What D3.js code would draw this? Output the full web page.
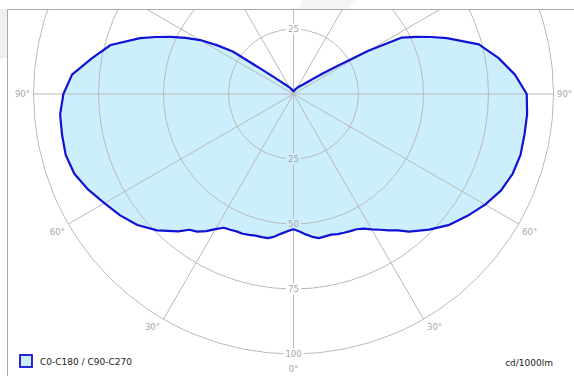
<!DOCTYPE html>
<html>
<head>
<meta charset="utf-8">
<script src="https://cdn.jsdelivr.net/npm/d3@7"></script>
<style>
  html, body { margin: 0; padding: 0; background: #fff; }
  svg { display: block; }
</style>
</head>
<body>
<svg id="chart" width="574" height="376"></svg>
<script>
// Luminous intensity distribution, cd/1000lm, by gamma angle (0° = straight down)
const gammaDeg = [0, 2.5, 5, 7.5, 10, 12.5, 15, 17.5, 20, 22.5, 25, 27.5, 30, 32.5, 35, 37.5, 40,
  45, 50, 55, 60, 65, 70, 75, 80, 85, 90, 95, 100, 105, 110,
  112.5, 115, 117.5, 120, 122.5, 125, 127.5, 130,
  135, 140, 145, 150, 155, 160, 165, 170, 175, 180];

// C0 half-plane (drawn on the right)
const c0Values = [52.0, 52.9, 54.2, 55.4, 56.3, 56.1, 56.0, 56.5, 56.8, 57.1, 57.4, 58.4, 60.1, 61.9, 64.0, 66.1, 69.1,
  73.8, 78.3, 81.7, 85.1, 88.0, 89.7, 90.4, 90.2, 90.2, 89.7, 85.5, 80.0, 73.8, 62.8,
  57.3, 51.9, 47.0, 33.0, 20.0, 13.7, 10.0, 7.5,
  5.0, 4.0, 3.3, 2.7, 2.2, 1.8, 1.5, 1.3, 1.2, 1.1];

// C180 half-plane (drawn on the left)
const c180Values = [52.0, 52.8, 53.9, 55.3, 56.3, 56.4, 56.4, 56.8, 57.2, 57.2, 57.6, 58.0, 60.0, 62.5, 64.6, 65.8, 69.0,
  74.2, 78.4, 81.4, 84.0, 87.1, 89.7, 90.7, 90.4, 90.1, 88.5, 85.5, 78.8, 72.8, 62.8,
  57.3, 52.0, 46.8, 41.5, 35.0, 28.5, 16.0, 11.0,
  6.3, 4.5, 3.5, 2.8, 2.2, 1.8, 1.5, 1.3, 1.2, 1.1];

const radialTicks = [25, 50, 75, 100];
const spokeAngles = [0, 30, 60, 90, 120, 150, 180];
const angleLabels = [0, 30, 60, 90];
const legendLabel = "C0-C180 / C90-C270";
const unitLabel = "cd/1000lm";

const W = 574, H = 376;
const cx = 293.5, cy = 94;
const rMax = 260;
const font = "'DejaVu Sans', Verdana, sans-serif";
const gridColor = "#b9b9b9";
const labelColor = "#a6a6a6";
const lineColor = "#1212d4";
const fillColor = "#cdeefd";

const svg = d3.select("#chart");
const defs = svg.append("defs");

const r = d3.scaleLinear().domain([0, 100]).range([0, rMax]);
const rad = d => d * Math.PI / 180;

// frame clip
defs.append("clipPath").attr("id", "frameClip")
  .append("rect").attr("x", 8).attr("y", 10).attr("width", W - 8).attr("height", H - 10);

// mask that opens gaps in the grid behind the value labels (in the centred group's coordinates)
const mask = defs.append("mask").attr("id", "labelGaps")
  .attr("maskUnits", "userSpaceOnUse")
  .attr("x", -cx).attr("y", -cy).attr("width", W).attr("height", H);
mask.append("rect").attr("x", -cx).attr("y", -cy).attr("width", W).attr("height", H).attr("fill", "#fff");

// soft grey bands outside the frame
svg.append("rect").attr("x", 0).attr("y", 9).attr("width", 7).attr("height", 49).attr("fill", "#efeff1");
svg.append("polygon").attr("points", "303,0 357,0 347,9 298,9").attr("fill", "#f4f4f6");

const plot = svg.append("g").attr("clip-path", "url(#frameClip)");
const center = plot.append("g").attr("transform", `translate(${cx},${cy})`);

// filled distribution
const pts = [];
gammaDeg.forEach((g, i) => pts.push([Math.PI - rad(g), r(c0Values[i])]));
for (let i = gammaDeg.length - 1; i >= 0; i--) pts.push([Math.PI + rad(gammaDeg[i]), r(c180Values[i])]);
const radial = d3.lineRadial().angle(d => d[0]).radius(d => d[1]).curve(d3.curveLinearClosed);

center.append("path").attr("d", radial(pts)).attr("fill", fillColor).attr("stroke", "none");

// grid
const grid = center.append("g").attr("mask", "url(#labelGaps)")
  .attr("fill", "none").attr("stroke", gridColor).attr("stroke-width", 1);
grid.selectAll("circle").data(radialTicks).join("circle")
  .attr("r", d => r(d));
const spokes = [];
spokeAngles.forEach(a => { spokes.push(a); if (a > 0 && a < 180) spokes.push(-a); });
grid.selectAll("line").data(spokes).join("line")
  .attr("x1", 0).attr("y1", 0)
  .attr("x2", d => rMax * Math.sin(rad(d)))
  .attr("y2", d => rMax * Math.cos(rad(d)));

// outline
center.append("path").attr("d", radial(pts)).attr("fill", "none")
  .attr("stroke", lineColor).attr("stroke-width", 2.2).attr("stroke-linejoin", "round");

// frame lines
svg.append("path").attr("d", `M7.5,${H} V9.5 H${W}`).attr("fill", "none")
  .attr("stroke", "#a9a9a9").attr("stroke-width", 1);

// value labels along the vertical axis
const valueLabels = radialTicks.map(v => ({ text: String(v), y: r(v) }))
  .concat([{ text: "25", y: -r(25) }]);
const vl = center.selectAll("text.val").data(valueLabels).join("text")
  .attr("class", "val")
  .attr("x", 0).attr("y", d => d.y)
  .attr("dy", "0.35em")
  .attr("text-anchor", "middle")
  .attr("font-family", font).attr("font-size", 8.5)
  .attr("fill", labelColor)
  .text(d => d.text);
vl.each(function () {
  const b = this.getBBox();
  mask.append("rect")
    .attr("x", b.x - 2).attr("y", b.y - 0.5)
    .attr("width", b.width + 4).attr("height", b.height + 1)
    .attr("fill", "#000");
});

// angle labels just outside the rim, beside each spoke end
const rimLabels = [];
angleLabels.forEach(a => { rimLabels.push(a); if (a > 0) rimLabels.push(-a); });
center.selectAll("text.ang").data(rimLabels).join("text")
  .attr("class", "ang")
  .attr("x", d => rMax * Math.sin(rad(d)) + Math.sign(d) * 3.5)
  .attr("y", d => rMax * Math.cos(rad(d)) + (d === 0 ? 15 : Math.abs(d) < 90 ? 8 : 0.5))
  .attr("dy", "0.35em")
  .attr("text-anchor", d => d === 0 ? "middle" : d > 0 ? "start" : "end")
  .attr("font-family", font).attr("font-size", 8.5)
  .attr("fill", labelColor)
  .text(d => Math.abs(d) + "°");

// legend
svg.append("rect").attr("x", 20).attr("y", 355).attr("width", 12).attr("height", 12)
  .attr("fill", fillColor).attr("stroke", lineColor).attr("stroke-width", 1.8);
svg.append("text").attr("x", 40).attr("y", 365)
  .attr("font-family", font).attr("font-size", 9).attr("fill", "#222")
  .text(legendLabel);
svg.append("text").attr("x", 553).attr("y", 366).attr("text-anchor", "end")
  .attr("font-family", font).attr("font-size", 9).attr("fill", "#222")
  .text(unitLabel);
</script>
</body>
</html>
